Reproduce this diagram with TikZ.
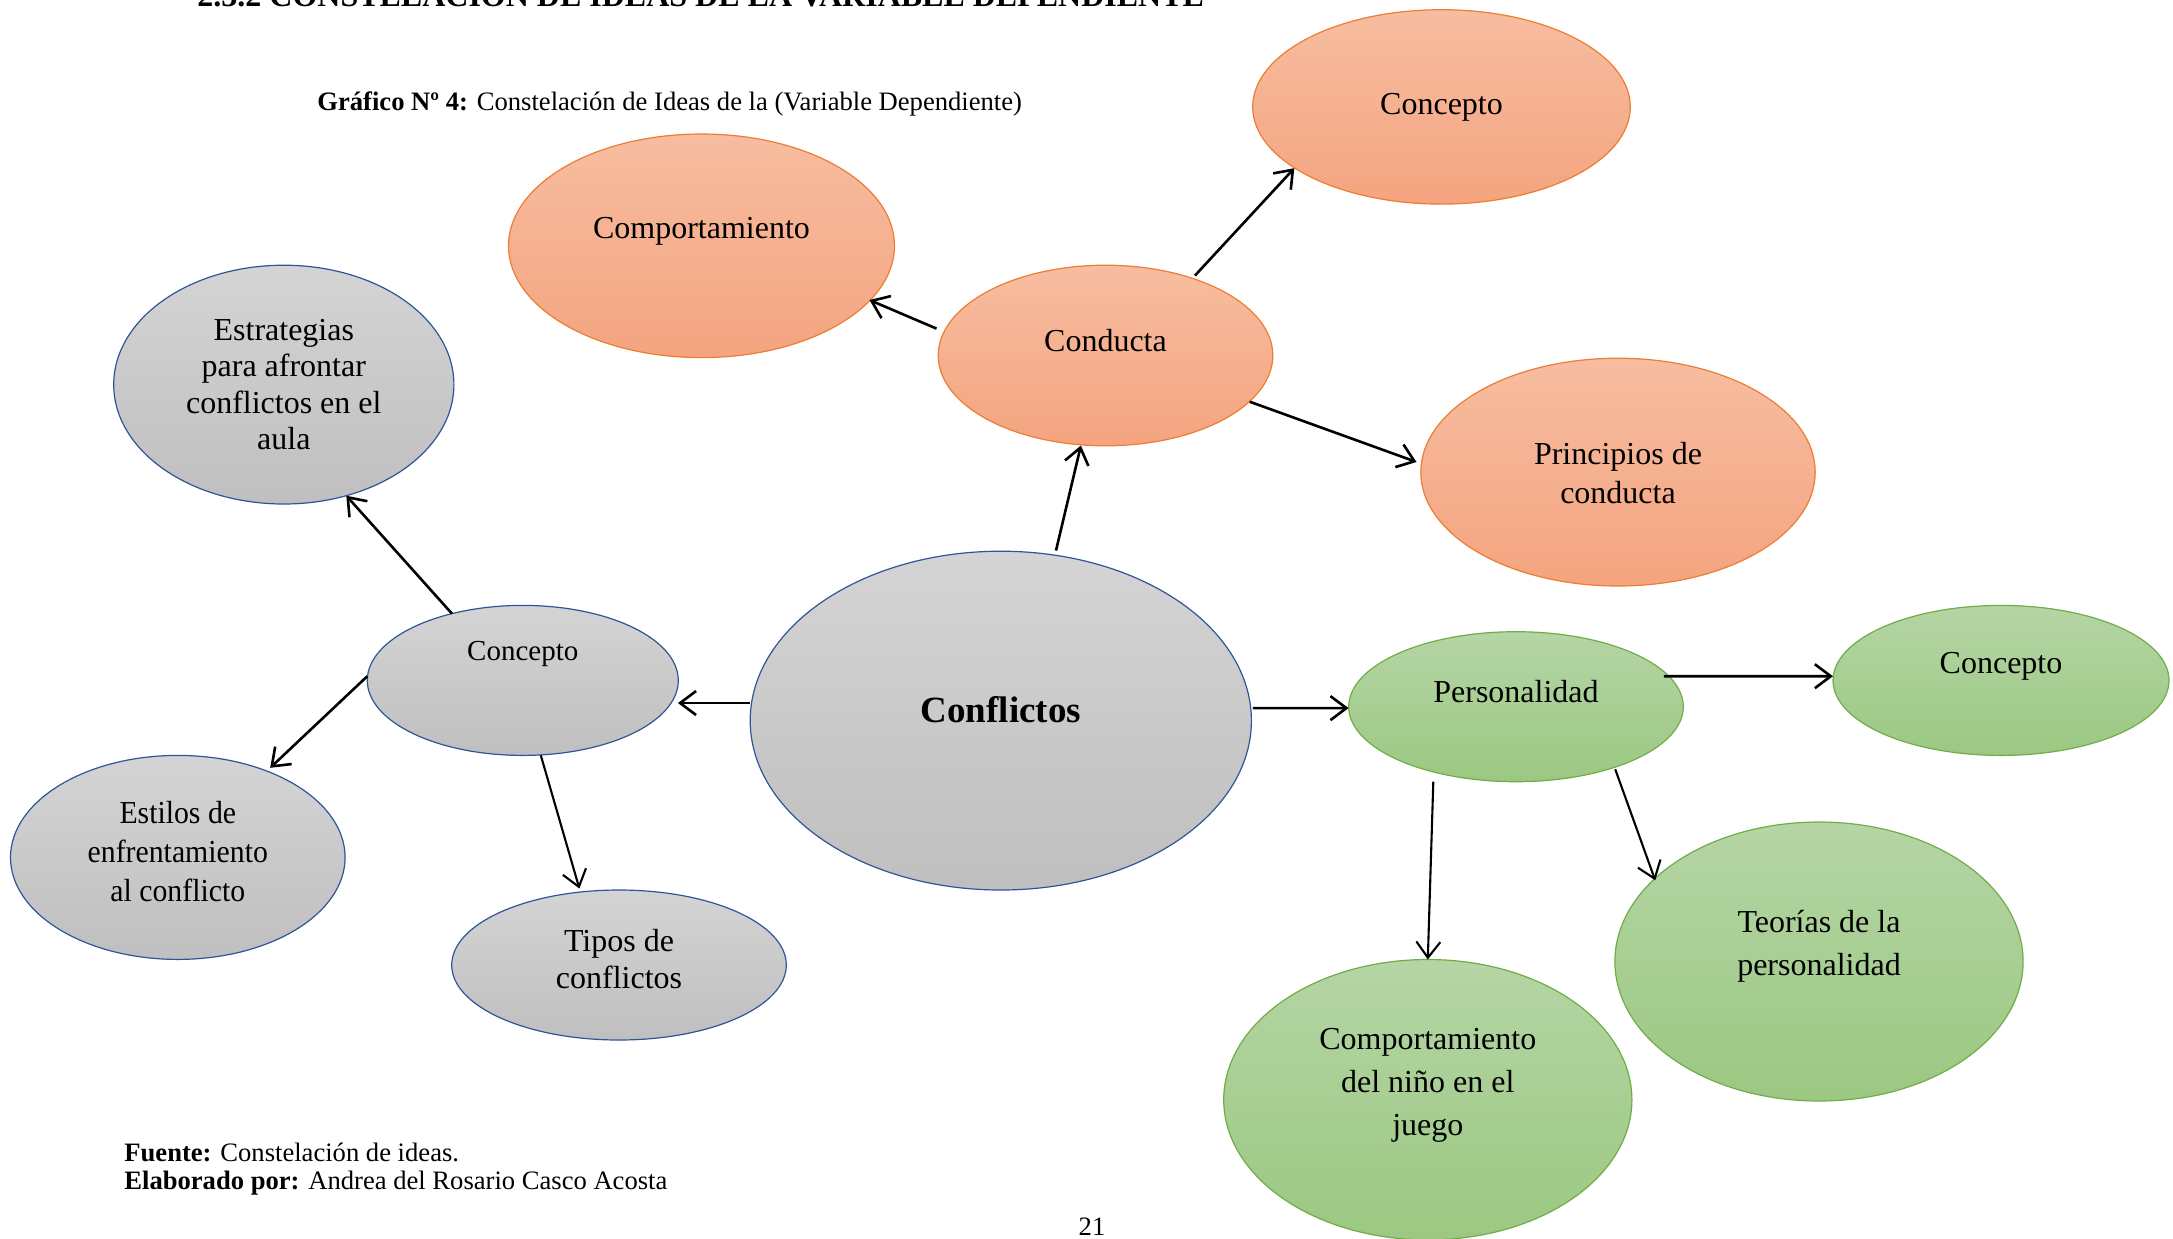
\documentclass[tikz,border=0pt]{standalone}
\usepackage{fontspec}
\setmainfont{Liberation Serif}
\usetikzlibrary{shapes.geometric,arrows.meta}
\definecolor{orfillT}{HTML}{F7BDA1}
\definecolor{orfillB}{HTML}{F4A47F}
\definecolor{ordraw}{HTML}{ED7D31}
\definecolor{grfillT}{HTML}{D4D4D4}
\definecolor{grfillB}{HTML}{BFBFBF}
\definecolor{grdraw}{HTML}{2F5597}
\definecolor{gnfillT}{HTML}{B5D5A5}
\definecolor{gnfillB}{HTML}{9BC882}
\definecolor{gndraw}{HTML}{70AD47}
\begin{document}
\begin{tikzpicture}[x=0.5pt,y=-0.5pt,
  orange/.style={ellipse,draw=ordraw,line width=0.6pt,top color=orfillT,bottom color=orfillB,inner sep=0pt},
  gray/.style={ellipse,draw=grdraw,line width=0.6pt,top color=grfillT,bottom color=grfillB,inner sep=0pt},
  green/.style={ellipse,draw=gndraw,line width=0.6pt,top color=gnfillT,bottom color=gnfillB,inner sep=0pt},
  lbl/.style={align=center,inner sep=0pt,font=\fontsize{16}{18.3}\selectfont},
  body/.style={inner sep=0pt,font=\fontsize{13.3}{16}\selectfont},
  arr/.style={-{Straight Barb[length=8pt,width=12pt,line width=1.3pt]},line width=1.3pt},
  arrthin/.style={-{Straight Barb[length=8pt,width=12pt,line width=1.05pt]},line width=1.05pt}]
\useasboundingbox (0,0) rectangle (2173,1238);
\clip (0,0) rectangle (2173,1238);

% header (cut off at the top edge, as in the reference)
\node[anchor=base west,inner sep=0pt,font=\fontsize{16}{18}\selectfont\bfseries] (title) at (197,6.5) {2.3.2 CONSTELACIÓN DE IDEAS DE LA VARIABLE DEPENDIENTE};
\node[body,anchor=west] (grafico) at (317,104) {\textbf{Gráfico Nº 4:} Constelación de Ideas de la (Variable Dependiente)};

% ellipses
\node[orange,minimum width=188.8pt,minimum height=97.2pt] (conceptoTop) at (1441.5,106.9) {};
\node[orange,minimum width=193pt,minimum height=111.8pt] (comport) at (701.5,245.8) {};
\node[orange,minimum width=167.3pt,minimum height=90.3pt] (conducta) at (1105.5,355.5) {};
\node[orange,minimum width=197.2pt,minimum height=113.9pt] (principios) at (1618,472.1) {};
\node[gray,minimum width=170.1pt,minimum height=119.4pt] (estrategias) at (283.8,384.6) {};
\node[gray,minimum width=155.5pt,minimum height=75pt] (conceptoL) at (522.8,680.4) {};
\node[gray,minimum width=250.6pt,minimum height=169.4pt] (conflictos) at (1000.8,720.6) {};
\node[gray,minimum width=167.3pt,minimum height=102pt] (estilos) at (177.8,857.4) {};
\node[gray,minimum width=167.3pt,minimum height=75pt] (tipos) at (619,965) {};
\node[green,minimum width=167.3pt,minimum height=75pt] (personalidad) at (1516,706.7) {};
\node[green,minimum width=168pt,minimum height=75pt] (conceptoR) at (2001,680.4) {};
\node[green,minimum width=204.1pt,minimum height=139.5pt] (teorias) at (1819,961.5) {};
\node[green,minimum width=204.1pt,minimum height=140.2pt] (nino) at (1427.8,1099.7) {};

% labels
\node[lbl] (tConceptoTop) at ([shift={(0,0)}]conceptoTop.center) {Concepto};
\node[lbl] (tComport) at ([shift={(0,-14)}]comport.center) {Comportamiento};
\node[lbl] (tConducta) at ([shift={(0,-15)}]conducta.center) {Conducta};
\node[lbl,font=\fontsize{16}{19.5}\selectfont] (tPrincipios) at ([shift={(0,1.4)}]principios.center) {Principios de\\conducta};
\node[lbl] (tEstrategias) at ([shift={(0,0)}]estrategias.center) {Estrategias\\para afrontar\\conflictos en el\\aula};
\node[lbl,font=\fontsize{14.5}{17}\selectfont] (tConceptoL) at ([shift={(0,-26)}]conceptoL.center) {Concepto};
\node[lbl,font=\fontsize{18.5}{21}\selectfont\bfseries] (tConflictos) at ([shift={(0,-11)}]conflictos.center) {Conflictos};
\node[lbl,font=\fontsize{16}{19.5}\selectfont] (tEstilos) at ([shift={(0,-6)}]estilos.center) {\scalebox{0.93}[1]{Estilos de}\\\scalebox{0.93}[1]{enfrentamiento}\\\scalebox{0.93}[1]{al conflicto}};
\node[lbl,font=\fontsize{16}{18.8}\selectfont] (tTipos) at ([shift={(0,-6)}]tipos.center) {Tipos de\\conflictos};
\node[lbl] (tPersonalidad) at ([shift={(0,-15)}]personalidad.center) {Personalidad};
\node[lbl] (tConceptoR) at ([shift={(0,-14)}]conceptoR.center) {Concepto};
\node[lbl,font=\fontsize{16}{21.5}\selectfont] (tTeorias) at ([shift={(0,-15)}]teorias.center) {Teorías de la\\personalidad};
\node[lbl,font=\fontsize{16}{21.5}\selectfont] (tNino) at ([shift={(0,-14)}]nino.center) {Comportamiento\\del niño en el\\juego};

% connectors
\draw[arr] ([shift={(55.2,-170.1)}]conflictos.center) -- ([shift={(-24.6,90)}]conducta.center);
\draw[arr] ([shift={(-169,-26.9)}]conducta.center) -- ([shift={(168,54.2)}]comport.center);
\draw[arr] ([shift={(89.4,-79.9)}]conducta.center) -- ([shift={(-147.2,61.3)}]conceptoTop.center);
\draw[arr] ([shift={(144.2,46.2)}]conducta.center) -- ([shift={(-201.5,-10.1)}]principios.center);
\draw[arr] ([shift={(-251,-17.6)}]conflictos.center) -- ([shift={(155.1,22.6)}]conceptoL.center);
\draw[arr] ([shift={(-70.8,-66.7)}]conceptoL.center) -- ([shift={(62.5,111.1)}]estrategias.center);
\draw[arr] ([shift={(-155.5,-4.2)}]conceptoL.center) -- ([shift={(92.4,-89.6)}]estilos.center);
\draw[arrthin] ([shift={(18,74.9)}]conceptoL.center) -- ([shift={(-39.6,-76.4)}]tipos.center);
\draw[arr] ([shift={(252,-12.5)}]conflictos.center) -- ([shift={(-167.4,1.4)}]personalidad.center);
\draw[arr] ([shift={(147.8,-30.5)}]personalidad.center) -- ([shift={(-168,-4.2)}]conceptoR.center);
\draw[arrthin] ([shift={(99.2,62.5)}]personalidad.center) -- ([shift={(-163.8,-81.2)}]teorias.center);
\draw[arrthin] ([shift={(-82.7,75)}]personalidad.center) -- ([shift={(0,-140.2)}]nino.center);

% footer
\node[body,anchor=west] (fuente) at (124,1152.5) {\textbf{Fuente:} Constelación de ideas.};
\node[body,anchor=west] (elaborado) at (124,1183) {\textbf{Elaborado por:} Andrea del Rosario Casco Acosta};
\node[body] (pagina) at (1092,1226.5) {21};
\end{tikzpicture}
\end{document}
